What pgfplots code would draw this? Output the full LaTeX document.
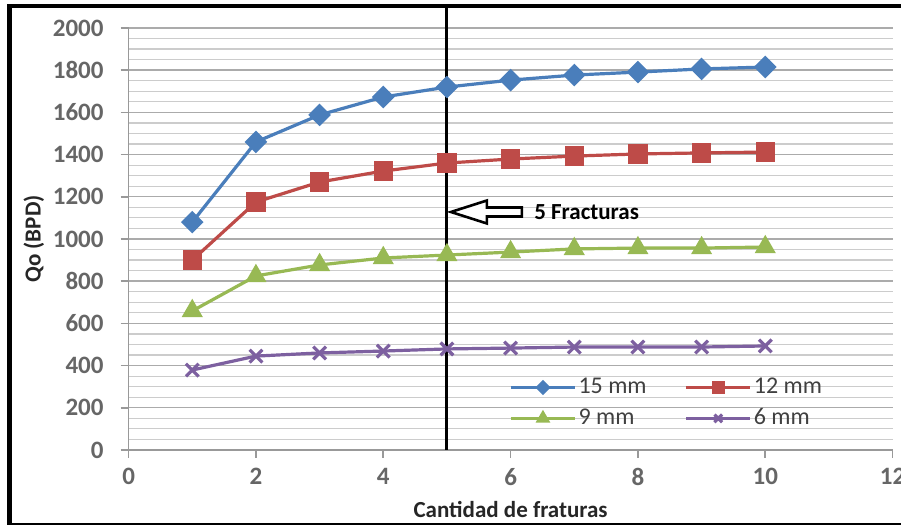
\documentclass[border=0pt]{standalone}
\usepackage{pgfplots}
\pgfplotsset{compat=1.18}
\usepackage{fontspec}
\setmainfont{Carlito}
\definecolor{cblue}{HTML}{4A7EBB}
\definecolor{cred}{HTML}{BE4B48}
\definecolor{cgreen}{HTML}{98B954}
\definecolor{cpurple}{HTML}{7D60A0}
\begin{document}
\begin{tikzpicture}
\path[use as bounding box] (0,0) rectangle (450.5pt,262.5pt);
\begin{axis}[
 at={(64.3pt,37.5pt)}, anchor=south west,
 scale only axis, width=382pt, height=211pt,
 xmin=0, xmax=12, ymin=0, ymax=2000,
 xtick={0,2,...,12}, ytick={0,200,...,2000},
 minor y tick num=3,
 axis x line=bottom, axis y line=left,
 axis line style={black!40, line width=0.8pt, -},
 tick align=outside, major tick length=4pt, minor tick length=0pt,
 tick style={black!40, line width=0.8pt},
 ymajorgrids, yminorgrids,
 major grid style={black!33, line width=0.7pt},
 minor grid style={black!20, line width=0.6pt},
 /pgf/number format/.cd, 1000 sep={}, assume math mode=true, /pgfplots/.cd,
 tick label style={font=\fontsize{12.5}{14}\selectfont\bfseries, text=black!60},
 yticklabel style={xshift=-5pt},
 xticklabel style={yshift=-1.5pt},
 xlabel={Cantidad de fraturas},
 xlabel style={at={(axis description cs:0.5,-0.142)}, anchor=center, font=\fontsize{11.5}{13}\selectfont\bfseries, text=black!85},
 ylabel={Qo (BPD)},
 ylabel style={at={(axis description cs:-0.124,0.5)}, anchor=center, font=\fontsize{11.5}{13}\selectfont\bfseries, text=black!85},
 clip=false,
 legend columns=2,
 legend cell align=left,
 legend style={draw=none, fill=none, at={(0.49,0.19)}, anchor=north west,
   font=\fontsize{12}{13}\selectfont, text=black!75, nodes={inner xsep=1pt},
   /tikz/every even column/.append style={column sep=18pt}, row sep=2pt},
 legend image code/.code={\draw[mark repeat=2,mark phase=2,#1,every mark/.append style={scale=0.6}] plot coordinates {(0pt,0pt)(16pt,0pt)(32pt,0pt)};},
]
\addplot[cblue, line width=1.6pt, mark=square*, mark size=3.2pt, mark options={rotate=45, solid}] coordinates {
(1,1080) (2,1460) (3,1588) (4,1673) (5,1720) (6,1753) (7,1777) (8,1791) (9,1806) (10,1815)};
\addlegendentry{15 mm}
\addplot[cred, line width=1.6pt, mark=square*, mark size=4pt] coordinates {
(1,900) (2,1175) (3,1270) (4,1322) (5,1360) (6,1379) (7,1393) (8,1403) (9,1408) (10,1412)};
\addlegendentry{12 mm}
\addplot[cgreen, line width=1.6pt, mark=triangle*, mark size=4.5pt] coordinates {
(1,659) (2,825) (3,877) (4,910) (5,924) (6,938) (7,953) (8,957) (9,957) (10,962)};
\addlegendentry{9 mm}
\addplot[cpurple, line width=1.6pt, mark=x, mark size=4.5pt] coordinates {
(1,379) (2,445) (3,460) (4,469) (5,479) (6,483) (7,488) (8,488) (9,488) (10,493)};
\addlegendentry{6 mm}
\draw[black, line width=1.5pt] (axis cs:5,0) -- (axis cs:5,2109);
\draw[black, line width=1.3pt, fill=white] ([xshift=2pt]axis cs:5,1128) -- ++(18pt,5.75pt) -- ++(0,-3.5pt) -- ++(17.5pt,0) -- ++(0,-4.5pt) -- ++(-17.5pt,0) -- ++(0,-3.5pt) -- cycle;
\node[anchor=west, xshift=43.5pt, font=\fontsize{11.5}{13}\selectfont\bfseries, inner sep=0pt] at (axis cs:5,1128) {5 Fracturas};
\end{axis}
\draw[black, line width=2.5pt] (4.9pt,0pt) -- (4.9pt,260.4pt);
\draw[black, line width=2pt] (3.65pt,259.35pt) -- (450.5pt,259.35pt);
\draw[black, line width=1.2pt] (3.65pt,0.6pt) -- (450.5pt,0.6pt);
\end{tikzpicture}
\end{document}
